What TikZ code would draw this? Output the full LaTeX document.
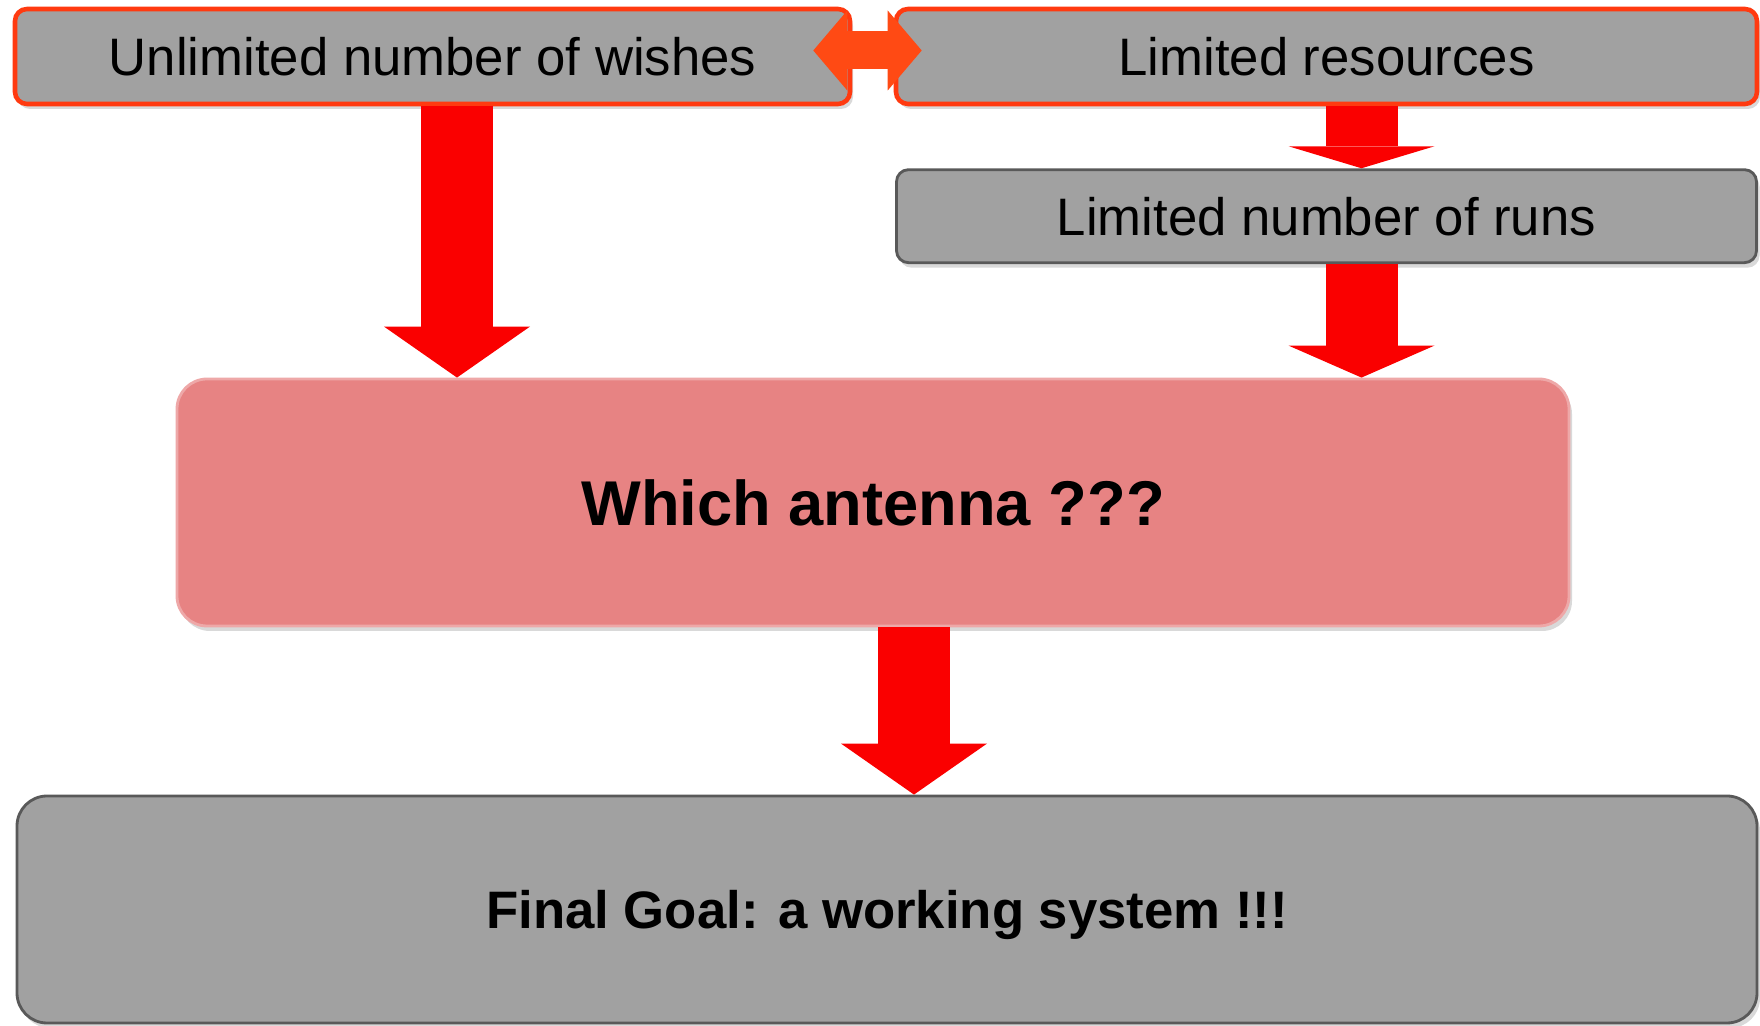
\documentclass[tikz,border=0pt]{standalone}
\usepackage{fontspec}
\setmainfont{Liberation Sans}
\usepackage{tikz}
\usetikzlibrary{positioning, arrows.meta, shadows}
\definecolor{cGray}{HTML}{A1A1A1}
\definecolor{cRim}{HTML}{FF3A10}
\definecolor{cPink}{HTML}{E78383}
\definecolor{cArr}{HTML}{FA0000}
\definecolor{cDbl}{HTML}{FF4A14}
\tikzset{
   arr/.style={-{Triangle[length=#1, width=14.6mm, line width=0pt]}, line width=7.2mm, color=cArr},
   arr/.default=5.1mm}

\begin{document}
\begin{tikzpicture}[every node/.style={font=\fontsize{15}{18}\selectfont},
   box/.style={draw=gray!70!black, fill=cGray, rounded corners=1.2mm, line width=0.8pt, minimum height=9.5mm, inner sep=0pt, drop shadow={shadow xshift=0.3mm, shadow yshift=-0.5mm, opacity=0.3}},
   rim/.style={box, draw=cRim, line width=1.3pt},
   big/.style={box, rounded corners=3mm, text depth=0pt, font=\fontsize{15}{18}\selectfont\bfseries},
   dbl/.style={{Triangle[length=3.4mm, width=8mm, line width=0pt]}-{Triangle[length=3.4mm, width=8mm, line width=0pt]}, line width=3.8mm, color=cDbl}]
  \useasboundingbox (0,0) rectangle (17.6,-10.26);
  \node[rim, minimum width=83.5mm] (wish) at (4.325,-0.565) {Unlimited number of wishes};
  \node[rim, minimum width=86.1mm] (res) at (13.265,-0.565) {Limited resources};
  \node[box, minimum width=86mm, minimum height=9.3mm, below=6.2mm of res] (runs) {Limited number of runs};
  \node[big, fill=cPink, draw=cPink!70!white, minimum width=139.2mm, minimum height=24.7mm, font=\fontsize{18}{22}\selectfont\bfseries] (ant) at (8.73,-5.025) {Which antenna ???};
  \node[big, minimum width=174mm, minimum height=22.7mm] (goal) at (8.87,-9.095) {Final Goal: a working system !!!};
  \draw[arr] ([xshift=2.45mm]wish.south) -- ([xshift=2.45mm]wish.south |- ant.north);
  \draw[arr=2.2mm] ([xshift=3.5mm]res.south) -- ([xshift=3.5mm]res.south |- runs.north);
  \draw[arr=3.2mm] ([xshift=3.5mm]runs.south) -- ([xshift=3.5mm]runs.south |- ant.north);
  \draw[arr] ([xshift=4.1mm]ant.south) -- ([xshift=4.1mm]ant.south |- goal.north);
  \draw[dbl] ([xshift=-3.9mm, yshift=0.6mm]wish.east) -- ([xshift=2.8mm, yshift=0.6mm]res.west);
\end{tikzpicture}
\end{document}
